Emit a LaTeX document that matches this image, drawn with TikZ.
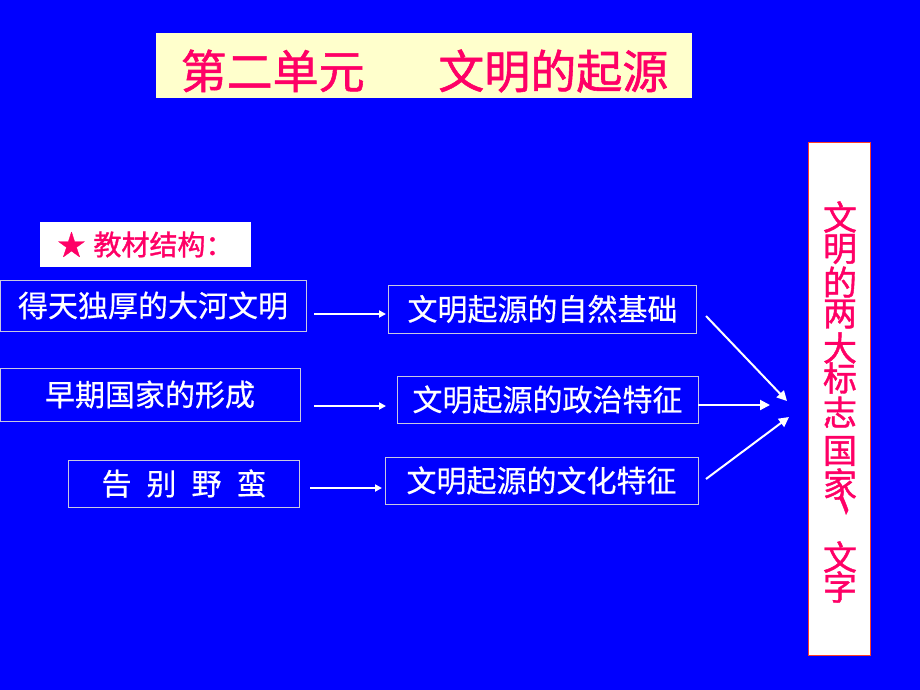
\documentclass[tikz,border=0pt]{standalone}
\usepackage{fontspec}
\setmainfont{Noto Sans CJK SC}
\newfontfamily\pinkfont[FakeBold=1.2]{Noto Sans CJK SC}
\newfontfamily\whitefont[FakeBold=0.5]{Noto Sans CJK SC}
\usetikzlibrary{arrows.meta}
\definecolor{bgblue}{RGB}{0,0,255}
\definecolor{pinkred}{RGB}{255,0,102}
\definecolor{paleyel}{RGB}{255,255,204}
\definecolor{edgegray}{RGB}{200,200,225}
\definecolor{edgered}{RGB}{255,60,40}
\begin{document}
\begin{tikzpicture}[x=1pt,y=-1pt,
  wbox/.style={draw=edgegray, line width=0.9pt, text=white, inner sep=0pt,
    font=\whitefont\fontsize{30}{30}\selectfont},
  arr/.style={draw=white, line width=1.8pt, -{Triangle[length=7pt,width=7pt]}},
  arrbig/.style={draw=white, line width=2pt, -{Triangle[length=10pt,width=10pt]}},
  vch/.style={text=pinkred, inner sep=0pt, font=\pinkfont\fontsize{34}{34}\selectfont}]
\useasboundingbox (0,0) rectangle (920,690);
\fill[bgblue] (0,0) rectangle (920,690);
% title
\node[fill=paleyel, minimum width=536pt, minimum height=65pt, inner sep=0pt] (titlebox) at (424,65.5) {};
\node[text=pinkred, inner sep=0pt, font=\pinkfont\fontsize{46}{46}\selectfont] (title) at (424.5,71) {第二单元\hspace{1.6em}文明的起源};
% star box
\node[fill=white, minimum width=211pt, minimum height=45pt, inner sep=0pt, text=pinkred,
  font=\pinkfont\fontsize{28}{28}\selectfont] (star) at (145.5,244.5) {★\hspace{8pt}教材结构：};
% left boxes
\node[wbox, minimum width=306pt, minimum height=51pt] (b1) at (153,305.5) {得天独厚的大河文明\hspace{12pt}};
\node[wbox, minimum width=300pt, minimum height=53pt] (b2) at (150,394.5) {早期国家的形成};
\node[wbox, minimum width=231pt, minimum height=47pt] (b3) at (184,483.5) {告\hspace{15pt}别\hspace{15pt}野\hspace{15pt}蛮};
% middle boxes
\node[wbox, minimum width=308pt, minimum height=48pt] (m1) at (542.5,309) {文明起源的自然基础};
\node[wbox, minimum width=301pt, minimum height=47pt] (m2) at (547.5,399.5) {文明起源的政治特征};
\node[wbox, minimum width=313pt, minimum height=47pt] (m3) at (541.5,480.5) {文明起源的文化特征};
% right box
\node[draw=edgered, fill=white, line width=1pt, minimum width=62pt, minimum height=513pt, inner sep=0pt] (rbox) at (839,398.5) {};
\foreach \c/\y [count=\i] in {文/217,明/249,的/282,两/314,大/348,标/378,志/412,国/451,家/484,文/557,字/587}
  \node[vch] (v\i) at (840,\y) {\c};
\node[text=pinkred, inner sep=0pt, font=\pinkfont\fontsize{18}{18}\selectfont] (vcolon) at (827,423) {:};
\node[text=pinkred, inner sep=0pt, font=\pinkfont\fontsize{34}{34}\selectfont] (vcomma) at (853,504) {\scalebox{0.9}[2.2]{、}};
% arrows
\coordinate (a1s) at (314,314); \coordinate (a1e) at (386,314);
\coordinate (a2s) at (314,406); \coordinate (a2e) at (386,406);
\coordinate (a3s) at (310,488); \coordinate (a3e) at (382,488);
\draw[arr] (a1s) -- (a1e);
\draw[arr] (a2s) -- (a2e);
\draw[arr] (a3s) -- (a3e);
\coordinate (r1s) at (706,316); \coordinate (r1e) at (787,401);
\coordinate (r3s) at (706,479); \coordinate (r3e) at (789,417);
\coordinate (r2e) at (770,405);
\draw[arrbig] (r1s) -- (r1e);
\draw[arrbig] (m2.east |- r2e) -- (r2e);
\draw[arrbig] (r3s) -- (r3e);
\end{tikzpicture}
\end{document}
